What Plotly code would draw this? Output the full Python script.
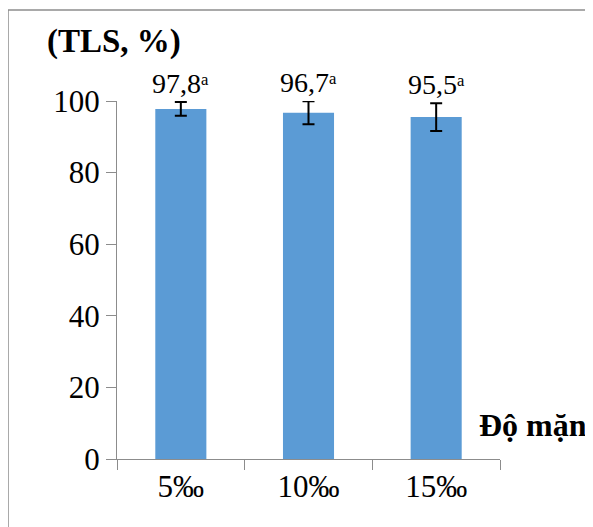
import plotly.graph_objects as go

categories = ["5‰", "10‰", "15‰"]
values = [97.8, 96.7, 95.5]
errors = [1.9, 3.2, 3.9]
value_labels = ["97,8", "96,7", "95,5"]
letters = ["ᵃ", "ᵃ", "ᵃ"]
y_ticks = [0, 20, 40, 60, 80, 100]

OFF = 8  # page body margin
W, H = 593 - OFF, 527 - OFF
L = 117 - OFF
T = 101 - OFF
R = W - (500 - OFF)
B = H - (459 - OFF)
pw = W - L - R
ph = H - T - B

FONT = "Liberation Serif"


def px(xr):
    return (xr - OFF - L) / pw


def py(yr):
    return (H - B - (yr - OFF)) / ph


fig = go.Figure()
fig.add_trace(go.Bar(
    x=categories, y=values, width=0.4,
    marker=dict(color="#5B9BD5", line=dict(width=0)),
    error_y=dict(type="data", array=errors, visible=True, color="black",
                 thickness=2, width=6),
    hoverinfo="skip",
))

annotations = []
for c, v, e, lab, let in zip(categories, values, errors, value_labels, letters):
    annotations.append(dict(
        x=c, y=v + e, xref="x", yref="y", text=f"{lab}{let}",
        showarrow=False, yanchor="bottom", yshift=1,
        font=dict(family=FONT, size=28, color="black"),
    ))

annotations.append(dict(
    x=px(45), y=py(41), xref="paper", yref="paper",
    text="(TLS, %)", showarrow=False, xanchor="left", yanchor="middle",
    font=dict(family=FONT, size=33, color="black", weight=700),
))
annotations.append(dict(
    x=px(477), y=py(425), xref="paper", yref="paper",
    text="Độ mặn", showarrow=False, xanchor="left", yanchor="middle",
    font=dict(family=FONT, size=32, color="black", weight=700),
))

shapes = [
    dict(type="line", xref="paper", yref="paper",
         x0=px(8), x1=px(8), y0=py(10), y1=py(540),
         line=dict(color="#8c8c8c", width=1.5)),
    dict(type="line", xref="paper", yref="paper",
         x0=px(8), x1=px(600), y0=py(10), y1=py(10),
         line=dict(color="#8c8c8c", width=1.5)),
]

fig.update_layout(
    width=W, height=H,
    margin=dict(l=L, r=R, t=T, b=B, pad=0),
    paper_bgcolor="white", plot_bgcolor="white",
    showlegend=False,
    annotations=annotations, shapes=shapes,
    xaxis=dict(
        type="category", showline=True, linecolor="#8c8c8c", linewidth=1,
        ticks="outside", tickson="boundaries", ticklen=10, tickcolor="#8c8c8c",
        showgrid=False, zeroline=False,
        tickfont=dict(family=FONT, size=31, color="black"),
    ),
    yaxis=dict(
        range=[0, 100], tickvals=y_ticks, showline=True, linecolor="#8c8c8c",
        linewidth=1, ticks="outside", ticklen=10, tickcolor="#8c8c8c",
        showgrid=False, zeroline=False, ticksuffix="\u00a0\u00a0\u00a0",
        tickfont=dict(family=FONT, size=31, color="black"),
    ),
)

fig.write_html("out.html")
